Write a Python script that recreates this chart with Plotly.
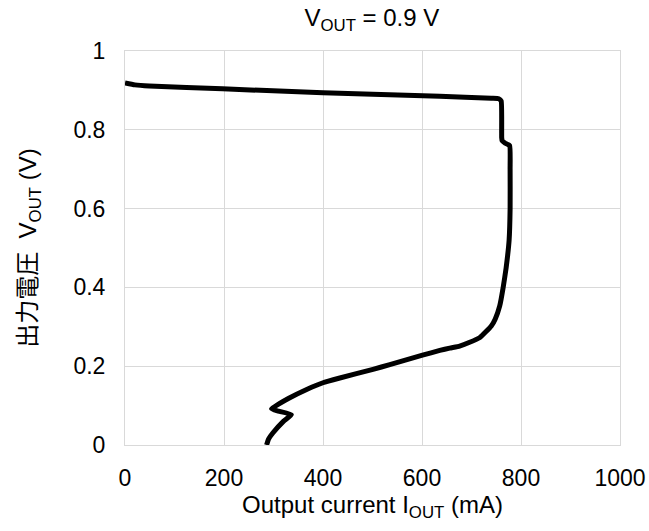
import plotly.graph_objects as go

# Load characteristic: output current (mA) vs output voltage (V)
current_ma = [0, 20, 49, 197, 400, 636, 740, 755, 760, 761, 762, 768, 777,
              778, 778, 776, 770, 764, 757, 748, 740, 717, 695, 676, 656, 636, 601,
              535, 501, 434, 400, 367, 330, 296, 310, 336, 320, 299, 290, 286]
voltage_v = [0.919, 0.914, 0.911, 0.904, 0.894, 0.885, 0.880, 0.879, 0.873, 0.78,
             0.772, 0.766, 0.760, 0.70, 0.60, 0.52, 0.45, 0.40, 0.353, 0.32,
             0.302, 0.273, 0.260, 0.251, 0.246, 0.240, 0.228, 0.204, 0.192, 0.170,
             0.158, 0.141, 0.118, 0.092, 0.086, 0.077, 0.06, 0.031, 0.015, 0.0]

x_ticks = [0, 200, 400, 600, 800, 1000]
y_ticks = [0, 0.2, 0.4, 0.6, 0.8, 1]

FONT = "Liberation Sans, Arial, Noto Sans CJK JP, sans-serif"
GRID = "#d9d9d9"
TICK_SIZE = 23
TITLE_SIZE = 24

fig = go.Figure(go.Scatter(
    x=current_ma, y=voltage_v, mode="lines",
    line=dict(color="black", width=5, shape="spline", smoothing=0.4),
    hoverinfo="skip",
))

fig.update_layout(
    width=649, height=531,
    margin=dict(l=125, r=29, t=51, b=86, autoexpand=False),
    paper_bgcolor="white", plot_bgcolor="white",
    showlegend=False,
    font=dict(family=FONT, size=TICK_SIZE, color="#000000"),
    title=dict(text="V<sub>OUT</sub> = 0.9 V", x=0.573, xanchor="center",
               y=0.966, yanchor="middle", font=dict(family=FONT, size=TITLE_SIZE)),
)

fig.update_xaxes(
    range=[0, 1000], tickvals=x_ticks, ticktext=[str(v) for v in x_ticks],
    showgrid=True, gridcolor=GRID, gridwidth=1, automargin=False,
    showline=True, linecolor=GRID, linewidth=1, mirror=True,
    zeroline=False, ticks="", ticklen=0, ticklabelstandoff=12,
    title=dict(text="Output current I<sub>OUT</sub> (mA)", standoff=6,
               font=dict(family=FONT, size=TITLE_SIZE)),
    tickfont=dict(family=FONT, size=TICK_SIZE),
)
fig.update_yaxes(
    range=[0, 1], tickvals=y_ticks, ticktext=["0", "0.2", "0.4", "0.6", "0.8", "1"],
    showgrid=True, gridcolor=GRID, gridwidth=1, automargin=False,
    showline=True, linecolor=GRID, linewidth=1, mirror=True,
    zeroline=False, ticks="", ticklen=0, ticklabelstandoff=14,
    title=dict(text="出力電圧  V<sub>OUT</sub> (V)", standoff=30,
               font=dict(family=FONT, size=TITLE_SIZE)),
    tickfont=dict(family=FONT, size=TICK_SIZE),
)

fig.write_html("out.html")
